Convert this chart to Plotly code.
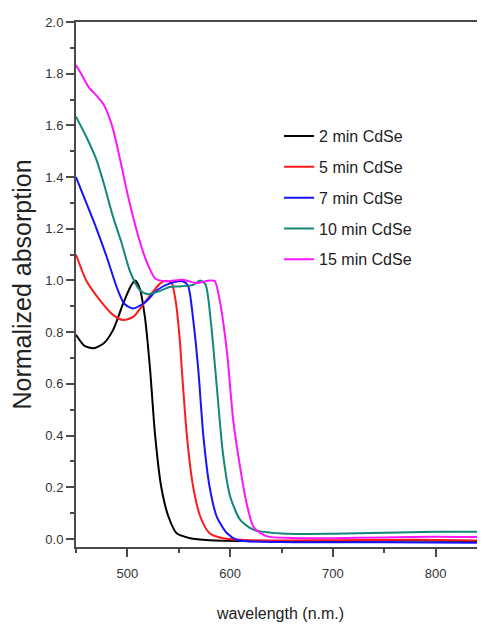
import plotly.graph_objects as go

# ---- data ----
series_names = ["2 min CdSe", "5 min CdSe", "7 min CdSe", "10 min CdSe", "15 min CdSe"]
series_colors = ["#000000", "#ff1a1a", "#1414ff", "#12877a", "#ff14ff"]

wl_2min = [450, 458, 467, 477, 486, 496, 503, 507.5, 512, 517, 522, 527, 533, 540, 548, 561, 580, 620, 700, 780, 848]
ab_2min = [0.79, 0.748, 0.738, 0.757, 0.808, 0.912, 0.976, 1.0, 0.97, 0.86, 0.66, 0.40, 0.20, 0.086, 0.022, 0.003, -0.005, -0.008, -0.008, -0.006, -0.008]

wl_5min = [450, 460, 473, 486, 496, 506, 515, 525, 532, 538, 543, 547, 551, 553, 558, 564, 571, 580, 593, 620, 700, 780, 848]
ab_5min = [1.10, 1.0, 0.925, 0.867, 0.847, 0.86, 0.905, 0.957, 0.989, 0.999, 0.99, 0.92, 0.77, 0.654, 0.396, 0.202, 0.086, 0.022, 0.003, -0.005, -0.005, -0.003, -0.006]

wl_7min = [450, 460, 470, 480, 490, 497, 505, 517, 529, 542, 554, 559, 564, 569, 574, 580, 587, 597, 607, 650, 750, 848]
ab_7min = [1.40, 1.30, 1.20, 1.09, 0.97, 0.91, 0.892, 0.915, 0.963, 0.99, 0.997, 0.98, 0.85, 0.654, 0.396, 0.202, 0.086, 0.022, -0.004, -0.012, -0.013, -0.015]

wl_10min = [450, 460, 470, 477, 486, 494, 503, 512, 520, 532, 541, 551, 564, 571, 576, 581, 587, 593, 600, 610, 623, 650, 700, 750, 800, 848]
ab_10min = [1.634, 1.556, 1.466, 1.376, 1.247, 1.15, 1.03, 0.963, 0.947, 0.96, 0.975, 0.977, 0.983, 1.0, 0.985, 0.85, 0.589, 0.331, 0.164, 0.073, 0.035, 0.021, 0.02, 0.024, 0.028, 0.028]

wl_15min = [450, 455, 462, 470, 477, 485, 493, 501, 510, 519, 527, 538, 554, 567, 580, 585, 590, 597, 603, 610, 616, 623, 636, 660, 700, 750, 800, 848]
ab_15min = [1.834, 1.80, 1.75, 1.715, 1.68, 1.60, 1.466, 1.32, 1.18, 1.07, 1.008, 0.997, 1.003, 0.99, 1.0, 0.998, 0.92, 0.72, 0.46, 0.27, 0.138, 0.045, 0.01, 0.004, 0.003, 0.006, 0.009, 0.007]

x_range = [450, 848]
y_range = [-0.031, 2.0]
x_tick_vals = [500, 600, 700, 800]
y_tick_vals = [0.0, 0.2, 0.4, 0.6, 0.8, 1.0, 1.2, 1.4, 1.6, 1.8, 2.0]

all_x = [wl_2min, wl_5min, wl_7min, wl_10min, wl_15min]
all_y = [ab_2min, ab_5min, ab_7min, ab_10min, ab_15min]

fig = go.Figure()
for name, color, xs, ys in zip(series_names, series_colors, all_x, all_y):
    fig.add_trace(go.Scatter(
        x=xs, y=ys, mode="lines", name=name, legendgroup=name,
        line=dict(color=color, width=2, shape="spline", smoothing=0.7),
    ))

axis_color = "#4a4a4a"
font_family = "Arial, Liberation Sans, sans-serif"

# page body has an 8px default margin, so the figure is sized to fit the window
fig.update_layout(
    width=477, height=616,
    margin=dict(l=68, r=0, t=14, b=77),
    paper_bgcolor="white", plot_bgcolor="white",
    font=dict(family=font_family, color="#222"),
    legend=dict(
        x=0.4965, y=0.815, xanchor="left", yanchor="top",
        bgcolor="rgba(0,0,0,0)", borderwidth=0,
        font=dict(size=16, family=font_family, color="#222"),
        traceorder="grouped", tracegroupgap=7, itemwidth=30,
    ),
    xaxis=dict(
        range=x_range, tickvals=x_tick_vals, automargin=False,
        showline=True, linecolor=axis_color, linewidth=2, mirror=True,
        ticks="outside", ticklen=8, tickwidth=1.5, tickcolor=axis_color,
        minor=dict(dtick=50, ticks="outside", ticklen=4, tickwidth=1.5, tickcolor=axis_color),
        showgrid=False, zeroline=False, ticklabelstandoff=5,
        tickfont=dict(size=13, color="#333"),
        title=dict(text="wavelength (n.m.)", font=dict(size=16, color="#222"), standoff=28),
    ),
    yaxis=dict(
        range=y_range, tickvals=y_tick_vals, tickformat=".1f", automargin=False,
        showline=True, linecolor=axis_color, linewidth=2, mirror=False,
        ticks="outside", ticklen=8, tickwidth=1.5, tickcolor=axis_color,
        minor=dict(dtick=0.1, ticks="outside", ticklen=4, tickwidth=1.5, tickcolor=axis_color),
        showgrid=False, zeroline=False,
        tickfont=dict(size=13, color="#333"),
        title=dict(text="Normalized absorption", font=dict(size=25, color="#222"), standoff=9),
    ),
)

fig.write_html("out.html")
